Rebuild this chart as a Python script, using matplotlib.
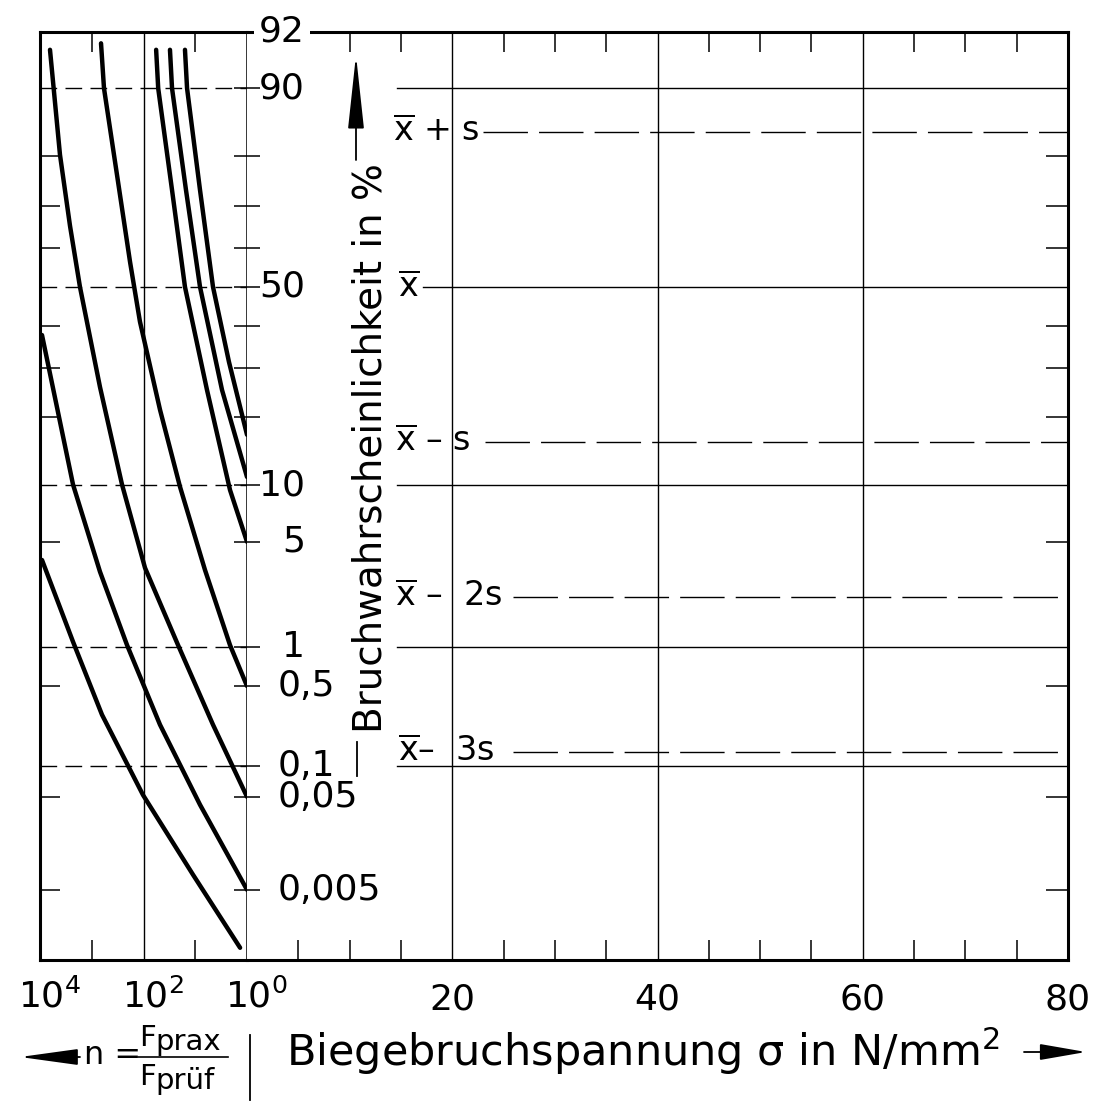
import numpy as np
import matplotlib
matplotlib.use("Agg")
import matplotlib.pyplot as plt
from matplotlib.lines import Line2D
from matplotlib.transforms import ScaledTranslation
from matplotlib.ticker import FixedLocator, FixedFormatter, NullFormatter, NullLocator
from statistics import NormalDist

plt.rcParams['font.family'] = ['DejaVu Sans']
plt.rcParams['mathtext.fontset'] = 'dejavusans'
plt.rcParams['mathtext.default'] = 'regular'

# left panel: load ratio n = F_prax / F_pruef against fracture probability (%)
curve_a_n = [6410, 4110, 2630, 1690, 693, 260, 93.5, 21.5, 4.54, 1.0]
curve_a_p = [93.7, 80.3, 65.3, 50.0, 25.9, 10.1, 3.49, 1.04, 0.236, 0.05]
curve_b_n = [662, 580, 325, 182, 117, 48, 19.7, 6.49, 2.13, 1.0]
curve_b_p = [94.2, 90.0, 76.5, 56.4, 41.1, 21.4, 9.85, 3.39, 1.04, 0.5]
curve_c_n = [57, 52, 28.1, 15.8, 5.93, 2.13, 1.0]
curve_c_p = [93.7, 90.0, 73.4, 50.0, 25.3, 9.5, 5.0]
curve_d_n = [30.8, 28.1, 15.1, 8.09, 3.04, 1.0]
curve_d_p = [93.7, 90.0, 73.4, 50.0, 25.3, 11.0]
curve_e_n = [15.8, 14.4, 8.09, 4.54, 2.23, 1.0]
curve_e_p = [93.7, 90.0, 73.4, 50.0, 31.4, 17.0]
curve_f_n = [9150, 5610, 2300, 693, 208, 48, 8.09, 1.0]
curve_f_p = [37.8, 25.7, 10.1, 3.30, 1.04, 0.236, 0.0416, 0.005]
curve_g_n = [9150, 2300, 634, 102, 11.0, 1.36]
curve_g_p = [3.9, 1.10, 0.288, 0.052, 0.0074, 0.001]

# probability axis (normal probability paper)
p_grid = [90, 50, 10, 1, 0.1]
p_minor = [80, 70, 60, 40, 30, 20, 5, 0.5, 0.05, 0.005]
p_labels = [90, 50, 10, 5, 1, 0.5, 0.1, 0.05, 0.005]
p_label_txt = ["90", "50", "10", "5", "1", "0,5", "0,1", "0,05", "0,005"]
p_top_txt = "92"
p_range = (0.0007, 95)

# right panel: mean +/- k*s levels
stat_txt = [r"$\overline{x}$ + s", r"$\overline{x}$", r"$\overline{x}$ – s",
            r"$\overline{x}$ –  2s", r"$\overline{x}$–  3s"]
stat_p = [84.13, 50, 15.87, 2.275, 0.135]

n_range = (1e4, 1)
n_ticks = [1e4, 1e2, 1]
n_tick_txt = ["$10^4$", "$10^2$", "$10^0$"]
n_minor = [1e3, 1e1]
sigma_range = (0, 80)
sigma_ticks = [20, 40, 60, 80]
sigma_minor = [5, 10, 15, 25, 30, 35, 45, 50, 55, 65, 70, 75]

_nd = NormalDist()
_ppf = np.vectorize(_nd.inv_cdf, otypes=[float])
_cdf = np.vectorize(_nd.cdf, otypes=[float])


def p_to_z(p):
    p = np.clip(np.asarray(p, dtype=float) / 100.0, 1e-12, 1 - 1e-12)
    return _ppf(p)


def z_to_p(z):
    return _cdf(np.asarray(z, dtype=float)) * 100.0


def prob_axis(ax):
    ax.set_yscale('function', functions=(p_to_z, z_to_p))
    ax.set_ylim(*p_range)
    ax.yaxis.set_minor_locator(NullLocator())
    ax.yaxis.set_major_formatter(NullFormatter())


W, H = 1115, 1102
fig = plt.figure(figsize=(W / 100, H / 100), dpi=100)


def fx(px):
    return px / W


def fy(py):
    return 1 - py / H


x_left, x_mid, x_right = 40, 247, 1068
y_top, y_bot = 32, 960
ax1 = fig.add_axes([fx(x_left), fy(y_bot), (x_mid - x_left) / W, (y_bot - y_top) / H])
ax2 = fig.add_axes([fx(x_mid), fy(y_bot), (x_right - x_mid) / W, (y_bot - y_top) / H])

thick, thin = 2.2, 1.0
lsize = 26

# ---- left panel
ax1.set_xscale('log')
ax1.set_xlim(*n_range)
prob_axis(ax1)
for n, p in [(curve_a_n, curve_a_p), (curve_b_n, curve_b_p), (curve_c_n, curve_c_p),
             (curve_d_n, curve_d_p), (curve_e_n, curve_e_p), (curve_f_n, curve_f_p),
             (curve_g_n, curve_g_p)]:
    ax1.plot(n, p, color='black', lw=3.2, solid_capstyle='round', solid_joinstyle='round')
for v in p_grid:
    ax1.axhline(v, color='black', lw=thin, ls=(0, (12, 6)))
ax1.axvline(1e2, color='black', lw=thin)

ax1.yaxis.set_major_locator(FixedLocator(p_minor))
ax1.tick_params(axis='y', left=True, right=False, direction='in', length=14.4, width=1.1)
ax1.xaxis.set_major_locator(FixedLocator(n_ticks))
ax1.xaxis.set_major_formatter(FixedFormatter(n_tick_txt))
ax1.xaxis.set_minor_locator(FixedLocator(n_minor))
ax1.xaxis.set_minor_formatter(NullFormatter())
ax1.tick_params(axis='x', which='major', length=0, labelsize=lsize, pad=13)
ax1.tick_params(axis='x', which='minor', top=True, bottom=True, direction='in',
                length=14.4, width=1.1)
for lab in ax1.get_xticklabels():
    lab.set_transform(lab.get_transform() + ScaledTranslation(7 / 72, 0, fig.dpi_scale_trans))
for s in ['left', 'top', 'bottom']:
    ax1.spines[s].set_linewidth(thick)
ax1.spines['right'].set_linewidth(1.1)

# ---- right panel
ax2.set_xlim(*sigma_range)
prob_axis(ax2)
for v in [20, 40, 60]:
    ax2.axvline(v, color='black', lw=thin)
for v in p_grid:
    if v != 50:
        ax2.axhline(v, xmin=0.183, color='black', lw=thin)
stat_start = [0.2875, 0.2144, 0.2899, 0.324, 0.324]
stat_xtxt = [0.178, 0.184, 0.180, 0.180, 0.184]
for txt, p, x0, xt in zip(stat_txt, stat_p, stat_start, stat_xtxt):
    ls = '-' if p == 50 else (0, (32, 8))
    ax2.axhline(p, xmin=x0, color='black', lw=thin, ls=ls)
    ax2.text(xt, p, txt, transform=ax2.get_yaxis_transform(), fontsize=24,
             ha='left', va='center')

ax2.yaxis.set_major_locator(FixedLocator(p_grid + p_minor))
ax2.tick_params(axis='y', left=True, right=False, direction='inout', length=19, width=1.1)
ax2.xaxis.set_major_locator(FixedLocator(sigma_ticks))
ax2.xaxis.set_minor_locator(FixedLocator(sigma_minor))
ax2.xaxis.set_minor_formatter(NullFormatter())
ax2.tick_params(axis='x', which='major', length=0, labelsize=lsize, pad=16)
ax2.tick_params(axis='x', which='minor', top=True, bottom=True, direction='in',
                length=14.4, width=1.1)
for s in ['right', 'top', 'bottom']:
    ax2.spines[s].set_linewidth(thick)
ax2.spines['left'].set_visible(False)

ax3 = ax2.twinx()
prob_axis(ax3)
ax3.yaxis.set_major_locator(FixedLocator(p_minor))
ax3.tick_params(axis='y', right=True, left=False, direction='in', length=16, width=1.1)
for s in ax3.spines.values():
    s.set_visible(False)

# probability labels, placed as in the drawing
ytr = ax2.get_yaxis_transform()
for v, t in zip(p_labels, p_label_txt):
    if ',' in t:
        ax2.text(0.0378, v, t, transform=ytr, ha='left', va='center', fontsize=lsize)
    else:
        ax2.text(0.0706, v, t, transform=ytr, ha='right', va='center', fontsize=lsize)
ax2.text(0.0706, 1.0, p_top_txt, transform=ax2.transAxes, ha='right', va='center',
         fontsize=lsize, zorder=5, bbox=dict(fc='white', ec='none', pad=4))

# axis titles and arrows
fig.text(fx(370), fy(448), "Bruchwahrscheinlichkeit in %", rotation=90,
         ha='center', va='center', fontsize=28)
arrow = dict(arrowstyle='-|>,head_length=1.85,head_width=0.2', color='black', lw=1.3,
             mutation_scale=25, shrinkA=0, shrinkB=0)
ax2.annotate("", xy=(fx(356), fy(55)), xytext=(fx(356), fy(160)),
             xycoords='figure fraction', textcoords='figure fraction', arrowprops=arrow)
fig.add_artist(Line2D([fx(357), fx(357)], [fy(742), fy(776)], color='black', lw=1.3))

fig.text(fx(286), fy(1066), "Biegebruchspannung σ in N/mm$^2$", ha='left', va='baseline',
         fontsize=31)
arrow_r = dict(arrow, arrowstyle='-|>,head_length=1.15,head_width=0.2')
ax2.annotate("", xy=(fx(1086), fy(1052)), xytext=(fx(1024), fy(1052)),
             xycoords='figure fraction', textcoords='figure fraction', arrowprops=arrow_r)

# n = F_prax / F_pruef, built from plain texts and a fraction bar
fig.text(fx(84), fy(1064), "n =", ha='left', va='baseline', fontsize=23)
fig.add_artist(Line2D([fx(138), fx(228)], [fy(1057), fy(1057)], color='black', lw=1.2))
fig.text(fx(139), fy(1046), "F", ha='left', va='baseline', fontsize=21)
fig.text(fx(155), fy(1050), "prax", ha='left', va='baseline', fontsize=21)
fig.text(fx(139), fy(1085), "F", ha='left', va='baseline', fontsize=21)
fig.text(fx(155), fy(1089), "prüf", ha='left', va='baseline', fontsize=21)
arrow_l = dict(arrow, arrowstyle='-|>,head_length=1.45,head_width=0.2')
ax1.annotate("", xy=(fx(20), fy(1057)), xytext=(fx(80), fy(1057)),
             xycoords='figure fraction', textcoords='figure fraction', arrowprops=arrow_l)
fig.add_artist(Line2D([fx(250), fx(250)], [fy(1035), fy(1100)], color='black', lw=1.3))

fig.savefig("out.png", dpi=100, facecolor='white')
